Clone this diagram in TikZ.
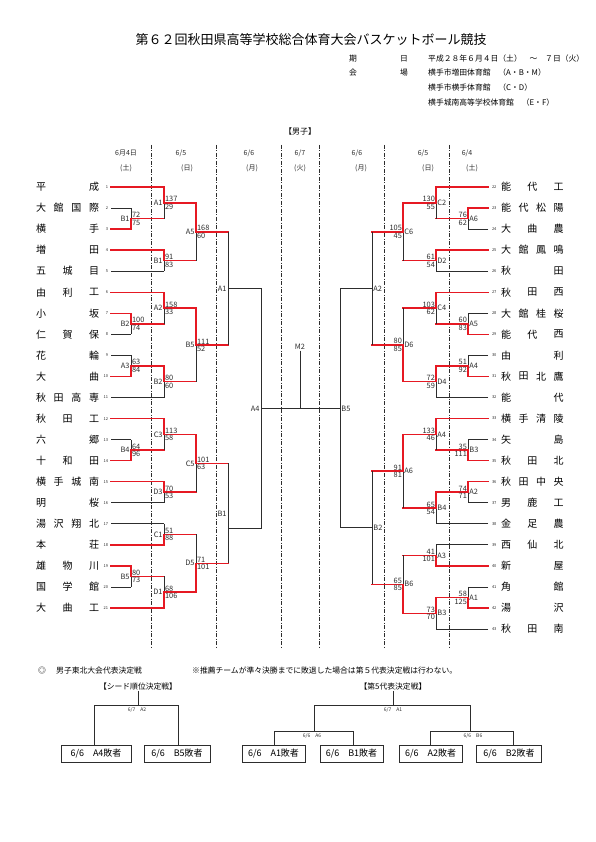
\documentclass[tikz,border=0pt]{standalone}
\usepackage{fontspec}
\setmainfont{Noto Sans CJK JP}
\definecolor{redline}{RGB}{230,25,35}
\definecolor{darkline}{RGB}{45,45,45}
\tikzset{
  plainln/.style={draw=darkline,line width=0.75pt},
  winln/.style={draw=redline,line width=1.5pt,line cap=rect},
  dashln/.style={draw=darkline,line width=0.6pt,dash pattern=on 4pt off 1.5pt on 1pt off 1.5pt},
  tn/.style={inner sep=0pt,font=\fontsize{10}{10}\selectfont},
  seedno/.style={inner sep=0.3pt,font=\fontsize{4}{4}\selectfont,text=darkline},
  score/.style={inner sep=0.5pt,font=\fontsize{7.4}{7.4}\selectfont,text=darkline},
  mlab/.style={inner sep=0.6pt,font=\fontsize{7.4}{7.4}\selectfont,text=darkline},
  hdr/.style={inner sep=0pt,font=\fontsize{7.8}{8}\selectfont},
  dayl/.style={inner sep=0pt,font=\fontsize{7}{7}\selectfont,text=darkline},
  tinyl/.style={inner sep=0pt,font=\fontsize{5}{5}\selectfont,text=darkline},
  bx/.style={draw=darkline,line width=0.75pt,minimum height=17pt,inner sep=0pt,font=\fontsize{9}{9}\selectfont},
}
\newcommand{\teamL}[6]{%
  \node[seedno,anchor=east] (s#1) at (108.5,#2) {#1};
  \coordinate (t#1) at (111,#2);
  \coordinate (t#1e) at (#5,#2);
  \draw[#6] (t#1) -- (t#1e);
  \foreach \ch [count=\kk] in {#4} {\node[tn] (n#1-\kk) at ({41+(\kk-1)*53/(#3-1)},#2) {\ch};}%
}
\newcommand{\teamR}[6]{%
  \node[seedno,anchor=west] (s#1) at (491.5,#2) {#1};
  \coordinate (t#1) at (488,#2);
  \coordinate (t#1e) at (#5,#2);
  \draw[#6] (t#1) -- (t#1e);
  \foreach \ch [count=\kk] in {#4} {\node[tn] (n#1-\kk) at ({506+(\kk-1)*52.5/(#3-1)},#2) {\ch};}%
}
\newcommand{\mt}[9]{%
  \coordinate (#1t) at (#2,#3);
  \coordinate (#1b) at (#2,#4);
  \coordinate (#1o) at (#2,#5);
  \coordinate (#1n) at (#6,#5);
  \draw[#7] (#1t) -- (#1o);
  \draw[#8] (#1o) -- (#1b);
  \draw[#9] (#1o) -- (#1n);
}
\newcommand{\scL}[6]{%
  \node[mlab,anchor=east] (#1l) at (#2-0.6,#3) {#4};
  \node[score,anchor=south west] (#1s) at (#2+0.4,#3-0.2) {#5};
  \node[score,anchor=north west] (#1r) at (#2+0.4,#3+0.5) {#6};
}
\newcommand{\scR}[6]{%
  \node[mlab,anchor=west] (#1l) at (#2+0.6,#3) {#4};
  \node[score,anchor=south east] (#1s) at (#2-0.4,#3-0.2) {#5};
  \node[score,anchor=north east] (#1r) at (#2-0.4,#3+0.5) {#6};
}
\begin{document}
\begin{tikzpicture}[x=1pt,y=-1pt]
\useasboundingbox (0,0) rectangle (595,842);
\fill[white] (0,0) rectangle (595,842);

% header
\node[inner sep=0pt,font=\fontsize{13}{13}\selectfont] (title) at (311,40) {第６２回秋田県高等学校総合体育大会バスケットボール競技};
\node[hdr] (h1a) at (353,59) {期};
\node[hdr] (h1b) at (404,59) {日};
\node[hdr,anchor=west] (h1c) at (428,59) {平成２８年６月４日（土）　～　７日（火）};
\node[hdr] (h2a) at (353,73) {会};
\node[hdr] (h2b) at (404,73) {場};
\node[hdr,anchor=west] (h2c) at (428,73) {横手市増田体育館　（A・B・M）};
\node[hdr,anchor=west] (h3c) at (428,88) {横手市横手体育館　（C・D）};
\node[hdr,anchor=west] (h4c) at (428,103) {横手城南高等学校体育館　（E・F）};
\node[inner sep=0pt,font=\fontsize{8}{8}\selectfont] (boys) at (300,131) {【男子】};

% day headers
\node[dayl] (d1a) at (126,153) {6月4日};  \node[dayl] (d1b) at (126,168) {(土)};
\node[dayl] (d2a) at (181,153) {6/5};     \node[dayl] (d2b) at (187,168) {(日)};
\node[dayl] (d3a) at (249,153) {6/6};     \node[dayl] (d3b) at (252,168) {(月)};
\node[dayl] (d4a) at (300,153) {6/7};     \node[dayl] (d4b) at (300,168) {(火)};
\node[dayl] (d5a) at (357,153) {6/6};     \node[dayl] (d5b) at (361,168) {(月)};
\node[dayl] (d6a) at (423,153) {6/5};     \node[dayl] (d6b) at (428,168) {(日)};
\node[dayl] (d7a) at (467,153) {6/4};     \node[dayl] (d7b) at (472,168) {(土)};

% dashed day separators
\foreach \xx [count=\ii] in {151,216,281,319,384,449} {
  \coordinate (dt\ii) at (\xx,145);
  \coordinate (db\ii) at (\xx,648);
  \draw[dashln] (dt\ii) -- (db\ii);
}

% left teams
\teamL{1}{187}{2}{平,成}{164}{winln}
\teamL{2}{208.05}{4}{大,館,国,際}{131}{plainln}
\teamL{3}{229.1}{2}{横,手}{131}{winln}
\teamL{4}{250.15}{2}{増,田}{164}{winln}
\teamL{5}{271.2}{3}{五,城,目}{164}{plainln}
\teamL{6}{292.25}{3}{由,利,工}{164}{winln}
\teamL{7}{313.3}{2}{小,坂}{131}{winln}
\teamL{8}{334.35}{3}{仁,賀,保}{131}{plainln}
\teamL{9}{355.4}{2}{花,輪}{131}{plainln}
\teamL{10}{376.45}{2}{大,曲}{131}{winln}
\teamL{11}{397.5}{4}{秋,田,高,専}{164}{plainln}
\teamL{12}{418.55}{3}{秋,田,工}{164}{winln}
\teamL{13}{439.6}{2}{六,郷}{131}{plainln}
\teamL{14}{460.65}{3}{十,和,田}{131}{winln}
\teamL{15}{481.7}{4}{横,手,城,南}{164}{winln}
\teamL{16}{502.75}{2}{明,桜}{164}{plainln}
\teamL{17}{523.8}{4}{湯,沢,翔,北}{164}{plainln}
\teamL{18}{544.85}{2}{本,荘}{164}{winln}
\teamL{19}{565.9}{3}{雄,物,川}{131}{winln}
\teamL{20}{586.95}{3}{国,学,館}{131}{plainln}
\teamL{21}{608}{3}{大,曲,工}{164}{winln}

% right teams
\teamR{22}{187}{3}{能,代,工}{436}{winln}
\teamR{23}{208.05}{4}{能,代,松,陽}{468}{winln}
\teamR{24}{229.1}{3}{大,曲,農}{468}{plainln}
\teamR{25}{250.15}{4}{大,館,鳳,鳴}{436}{winln}
\teamR{26}{271.2}{2}{秋,田}{436}{plainln}
\teamR{27}{292.25}{3}{秋,田,西}{436}{winln}
\teamR{28}{313.3}{4}{大,館,桂,桜}{468}{plainln}
\teamR{29}{334.35}{3}{能,代,西}{468}{winln}
\teamR{30}{355.4}{2}{由,利}{468}{plainln}
\teamR{31}{376.45}{4}{秋,田,北,鷹}{468}{winln}
\teamR{32}{397.5}{2}{能,代}{436}{plainln}
\teamR{33}{418.55}{4}{横,手,清,陵}{436}{winln}
\teamR{34}{439.6}{2}{矢,島}{468}{plainln}
\teamR{35}{460.65}{3}{秋,田,北}{468}{winln}
\teamR{36}{481.7}{4}{秋,田,中,央}{468}{winln}
\teamR{37}{502.75}{3}{男,鹿,工}{468}{plainln}
\teamR{38}{523.8}{3}{金,足,農}{436}{plainln}
\teamR{39}{544.85}{3}{西,仙,北}{436}{plainln}
\teamR{40}{565.9}{2}{新,屋}{436}{winln}
\teamR{41}{586.95}{2}{角,館}{468}{plainln}
\teamR{42}{608}{2}{湯,沢}{468}{winln}
\teamR{43}{629.05}{3}{秋,田,南}{436}{plainln}

% left matches
\mt{L1B1}{131}{208.05}{229.1}{218.6}{164}{plainln}{winln}{winln}
\mt{L1B2}{131}{313.3}{334.35}{323.8}{164}{winln}{plainln}{winln}
\mt{L1A3}{131}{355.4}{376.45}{365.9}{164}{plainln}{winln}{winln}
\mt{L1B4}{131}{439.6}{460.65}{450.1}{164}{plainln}{winln}{winln}
\mt{L1B5}{131}{565.9}{586.95}{576.4}{164}{winln}{plainln}{winln}
\mt{L2A1}{164}{187}{218.6}{202.8}{196}{winln}{plainln}{winln}
\mt{L2B1}{164}{250.15}{271.2}{260.7}{196}{winln}{plainln}{winln}
\mt{L2A2}{164}{292.25}{323.8}{308}{196}{winln}{plainln}{winln}
\mt{L2B2}{164}{365.9}{397.5}{381.7}{196}{winln}{plainln}{winln}
\mt{L2C3}{164}{418.55}{450.1}{434.3}{196}{winln}{plainln}{winln}
\mt{L2D3}{164}{481.7}{502.75}{492.2}{196}{winln}{plainln}{winln}
\mt{L2C1}{164}{523.8}{544.85}{534.3}{196}{plainln}{winln}{winln}
\mt{L2D1}{164}{576.4}{608}{592.2}{196}{plainln}{winln}{winln}
\mt{L3A5}{196}{202.8}{260.7}{231.8}{228}{winln}{plainln}{winln}
\mt{L3B5}{196}{308}{381.7}{344.9}{228}{winln}{plainln}{winln}
\mt{L3C5}{196}{434.3}{492.2}{463.3}{228}{winln}{plainln}{winln}
\mt{L3D5}{196}{534.3}{592.2}{563.3}{228}{plainln}{winln}{winln}
\mt{L4A1}{228}{231.8}{344.9}{288.4}{261}{plainln}{plainln}{plainln}
\mt{L4B1}{228}{463.3}{563.3}{528.6}{261}{plainln}{plainln}{plainln}
\mt{L5A4}{261}{288.4}{528.6}{408.5}{300}{plainln}{plainln}{plainln}

\scL{L1B1}{131}{218.6}{B1}{72}{75}
\scL{L1B2}{131}{323.8}{B2}{100}{74}
\scL{L1A3}{131}{365.9}{A3}{63}{84}
\scL{L1B4}{131}{450.1}{B4}{64}{96}
\scL{L1B5}{131}{576.4}{B5}{80}{73}
\scL{L2A1}{164}{202.8}{A1}{137}{29}
\scL{L2B1}{164}{260.7}{B1}{91}{83}
\scL{L2A2}{164}{308}{A2}{158}{33}
\scL{L2B2}{164}{381.7}{B2}{80}{60}
\scL{L2C3}{164}{434.3}{C3}{113}{58}
\scL{L2D3}{164}{492.2}{D3}{70}{53}
\scL{L2C1}{164}{534.3}{C1}{51}{88}
\scL{L2D1}{164}{592.2}{D1}{68}{106}
\scL{L3A5}{196}{231.8}{A5}{168}{60}
\scL{L3B5}{196}{344.9}{B5}{111}{52}
\scL{L3C5}{196}{463.3}{C5}{101}{63}
\scL{L3D5}{196}{563.3}{D5}{71}{101}
\node[mlab,anchor=east] (L4A1l) at (227.4,288.4) {A1};
\node[mlab,anchor=east] (L4B1l) at (227.4,513.3) {B1};
\node[mlab,anchor=east] (L5A4l) at (260.4,408.5) {A4};

% right matches
\mt{R1A6}{468}{208.05}{229.1}{218.6}{436}{winln}{plainln}{winln}
\mt{R1A5}{468}{313.3}{334.35}{323.8}{436}{plainln}{winln}{winln}
\mt{R1A4}{468}{355.4}{376.45}{365.9}{436}{plainln}{winln}{winln}
\mt{R1B3}{468}{439.6}{460.65}{450.1}{436}{plainln}{winln}{winln}
\mt{R1A2}{468}{481.7}{502.75}{492.2}{436}{winln}{plainln}{winln}
\mt{R1A1}{468}{586.95}{608}{597.5}{436}{plainln}{winln}{winln}
\mt{R2C2}{436}{187}{218.6}{202.8}{403}{winln}{plainln}{winln}
\mt{R2D2}{436}{250.15}{271.2}{260.7}{403}{winln}{plainln}{winln}
\mt{R2C4}{436}{292.25}{323.8}{308}{403}{winln}{plainln}{winln}
\mt{R2D4}{436}{365.9}{397.5}{381.7}{403}{winln}{plainln}{winln}
\mt{R2A4}{436}{418.55}{450.1}{434.3}{403}{winln}{plainln}{winln}
\mt{R2B4}{436}{492.2}{523.8}{508}{403}{winln}{plainln}{winln}
\mt{R2A3}{436}{544.85}{565.9}{555.4}{403}{plainln}{winln}{winln}
\mt{R2B3}{436}{597.5}{629.05}{613.3}{403}{winln}{plainln}{winln}
\mt{R3C6}{403}{202.8}{260.7}{231.8}{372}{winln}{plainln}{winln}
\mt{R3D6}{403}{308}{381.7}{344.9}{372}{plainln}{winln}{winln}
\mt{R3A6}{403}{434.3}{508}{471.2}{372}{winln}{plainln}{winln}
\mt{R3B6}{403}{555.4}{613.3}{584.3}{372}{plainln}{winln}{winln}
\mt{R4A2}{372}{231.8}{344.9}{288.4}{340}{plainln}{plainln}{plainln}
\mt{R4B2}{372}{471.2}{584.3}{527.8}{340}{plainln}{plainln}{plainln}
\mt{R5B5}{340}{288.4}{527.8}{408.5}{300}{plainln}{plainln}{plainln}

\scR{R1A6}{468}{218.6}{A6}{76}{62}
\scR{R1A5}{468}{323.8}{A5}{60}{83}
\scR{R1A4}{468}{365.9}{A4}{51}{92}
\scR{R1B3}{468}{450.1}{B3}{35}{111}
\scR{R1A2}{468}{492.2}{A2}{74}{71}
\scR{R1A1}{468}{597.5}{A1}{58}{125}
\scR{R2C2}{436}{202.8}{C2}{130}{55}
\scR{R2D2}{436}{260.7}{D2}{61}{54}
\scR{R2C4}{436}{308}{C4}{103}{62}
\scR{R2D4}{436}{381.7}{D4}{72}{59}
\scR{R2A4}{436}{434.3}{A4}{133}{46}
\scR{R2B4}{436}{508}{B4}{65}{54}
\scR{R2A3}{436}{555.4}{A3}{41}{101}
\scR{R2B3}{436}{613.3}{B3}{73}{70}
\scR{R3C6}{403}{231.8}{C6}{105}{45}
\scR{R3D6}{403}{344.9}{D6}{80}{85}
\scR{R3A6}{403}{471.2}{A6}{91}{81}
\scR{R3B6}{403}{584.3}{B6}{65}{85}
\node[mlab,anchor=west] (R4A2l) at (372.6,288.4) {A2};
\node[mlab,anchor=west] (R4B2l) at (372.6,527.8) {B2};
\node[mlab,anchor=west] (R5B5l) at (340.6,408.5) {B5};

% final
\node[mlab] (M2) at (300,347) {M2};
\coordinate (M2b) at (300,408.5);
\draw[plainln] (M2.south) -- (M2b);

% bottom section
\node[hdr] (mk) at (42,671) {◎};
\node[hdr,anchor=west] (bt1) at (56,671) {男子東北大会代表決定戦};
\node[hdr,anchor=west] (bt2) at (192,671) {※推薦チームが準々決勝までに敗退した場合は第５代表決定戦は行わない。};
\node[hdr] (sd) at (138,687) {【シード順位決定戦】};
\node[hdr] (d5t) at (393,687) {【第5代表決定戦】};

\node[bx,minimum width=70pt] (bA4) at (96,753.5) {6/6　A4敗者};
\node[bx,minimum width=66pt] (bB5) at (177,753.5) {6/6　B5敗者};
\node[bx,minimum width=63pt] (bA1) at (273.5,753.5) {6/6　A1敗者};
\node[bx,minimum width=63pt] (bB1) at (351.5,753.5) {6/6　B1敗者};
\node[bx,minimum width=63pt] (bA2) at (430.5,753.5) {6/6　A2敗者};
\node[bx,minimum width=65pt] (bB2) at (509,753.5) {6/6　B2敗者};

% seed bracket
\coordinate (sdS) at (138,705);
\coordinate (sdL) at (94,705);
\coordinate (sdR) at (178,705);
\draw[plainln] (sd.south) -- (sdS);
\draw[plainln] (sdL) -- (sdR);
\draw[plainln] (sdL) -- (sdL |- bA4.north);
\draw[plainln] (sdR) -- (sdR |- bB5.north);
\node[tinyl] (sdlab) at (137,709.5) {6/7　A2};

% fifth bracket
\coordinate (fS) at (393,705);
\coordinate (fL) at (314,705);
\coordinate (fR) at (470,705);
\draw[plainln] (d5t.south) -- (fS);
\draw[plainln] (fL) -- (fR);
\node[tinyl] (flab) at (393,709.5) {6/7　A1};
\coordinate (fLs) at (314,731);
\coordinate (fLa) at (274.5,731);
\coordinate (fLb) at (353,731);
\draw[plainln] (fL) -- (fLs);
\draw[plainln] (fLa) -- (fLb);
\draw[plainln] (fLa) -- (fLa |- bA1.north);
\draw[plainln] (fLb) -- (fLb |- bB1.north);
\node[tinyl] (fLlab) at (312,735.5) {6/6　A6};
\coordinate (fRs) at (470,731);
\coordinate (fRa) at (430,731);
\coordinate (fRb) at (513,731);
\draw[plainln] (fR) -- (fRs);
\draw[plainln] (fRa) -- (fRb);
\draw[plainln] (fRa) -- (fRa |- bA2.north);
\draw[plainln] (fRb) -- (fRb |- bB2.north);
\node[tinyl] (fRlab) at (473,735.5) {6/6　B6};
\end{tikzpicture}
\end{document}
